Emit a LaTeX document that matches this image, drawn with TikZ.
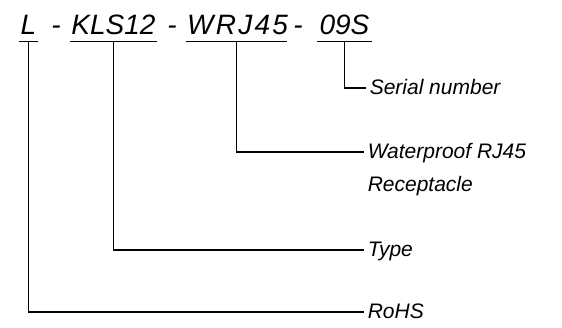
\documentclass[tikz,border=0pt]{standalone}
\usepackage{fontspec}
\setmainfont{Liberation Sans}
\usetikzlibrary{positioning}

\begin{document}
\begin{tikzpicture}[x=1pt,y=-1pt,line width=1.5pt,
        part/.style={font=\fontsize{28}{30}\selectfont\itshape, anchor=base, inner xsep=0pt, inner ysep=6pt, text depth=0pt},
        sepsign/.style={font=\fontsize{28}{30}\selectfont\itshape, anchor=base, inner sep=0pt},
        desc/.style={font=\fontsize{21}{33}\selectfont\itshape, anchor=base west, inner xsep=3pt, align=left}]
        \useasboundingbox (0,0) rectangle (562,328);
        % code parts
        \node[part, minimum width=17] (lead) at (28.5,35) {L};
        \node[part, minimum width=85] (type) at (113.5,35) {KLS12};
        \node[part, minimum width=93] (conn) at (236.5,35) {\addfontfeatures{LetterSpace=8}WRJ45\kern-2.2pt};
        \node[part, minimum width=53] (serno) at (344.5,35) {09S};
        \node[sepsign] (s1) at (56,35) {-};
        \node[sepsign] (s2) at (172,35) {-};
        \node[sepsign] (s3) at (298,35) {-};
        \foreach \p in {lead,type,conn,serno}
            \draw (\p.south west) -- (\p.south east);
        % descriptions
        \node[desc] (dserno) at (366,95) {Serial number};
        \node[desc] (dconn) at (364,192) {Waterproof RJ45\\Receptacle};
        \node[desc] (dtype) at (364,257) {Type};
        \node[desc] (dlead) at (364,319) {RoHS};
        \draw (serno.south) |- ([yshift=7pt]dserno.base west);
        \draw (conn.south) |- ([yshift=40pt]dconn.base west);
        \draw (type.south) |- ([yshift=7pt]dtype.base west);
        \draw (lead.south) |- ([yshift=7pt]dlead.base west);
    \end{tikzpicture}
\end{document}
